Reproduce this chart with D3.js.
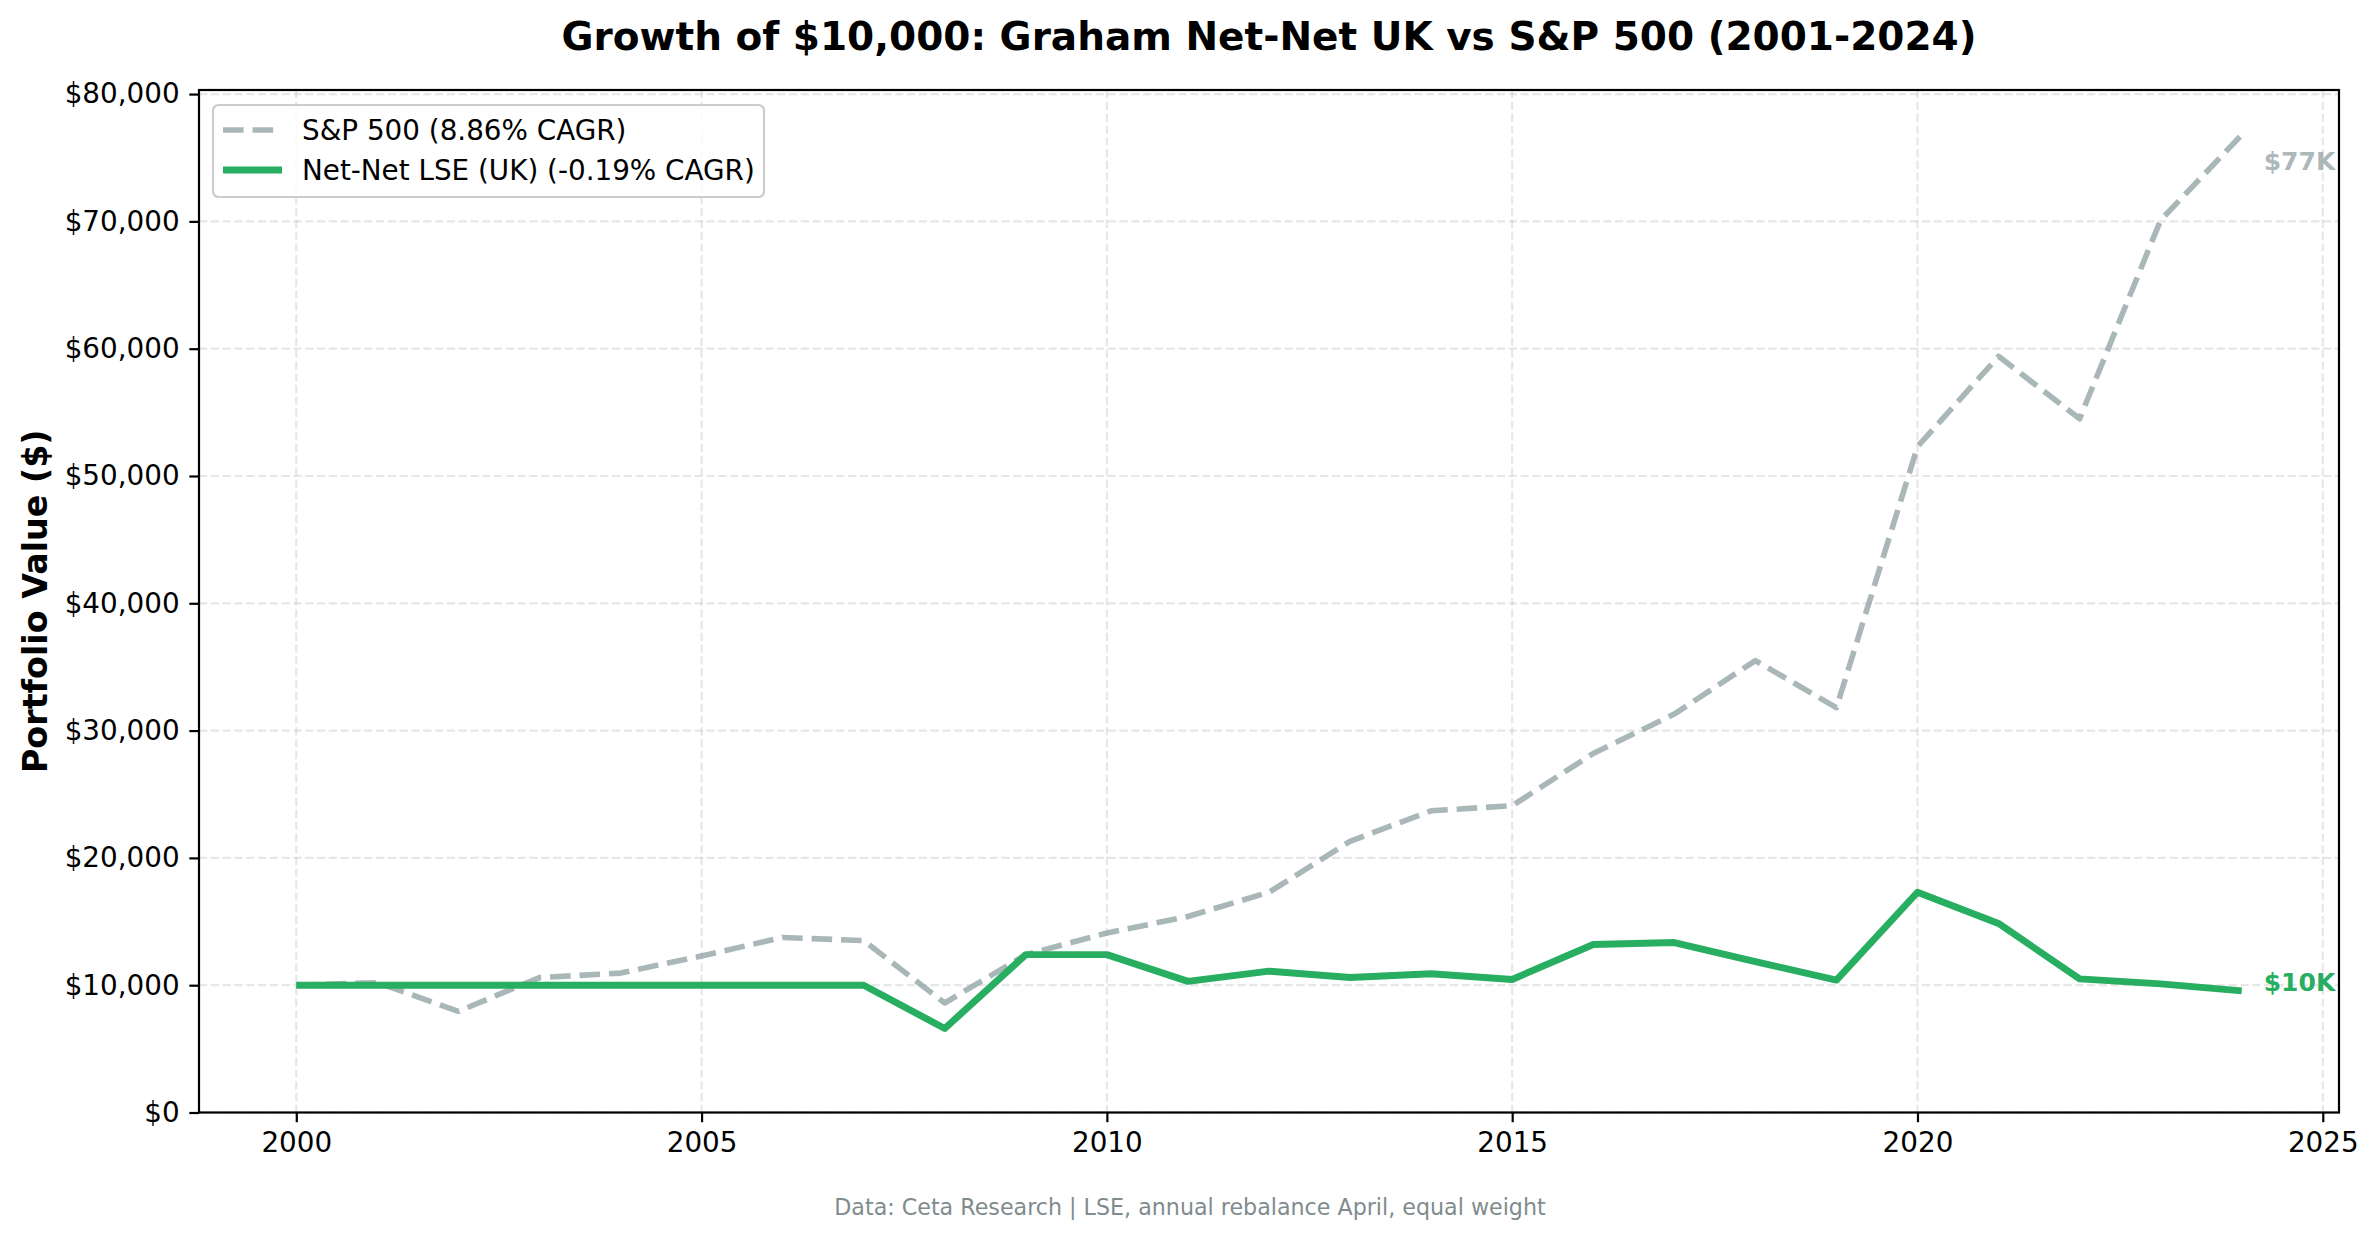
<!DOCTYPE html>
<html>
<head>
<meta charset="utf-8">
<script src="https://cdn.jsdelivr.net/npm/d3@7"></script>
<style>
  body { margin: 0; background: white; }
  text { font-family: 'DejaVu Sans', sans-serif; }
</style>
</head>
<body>
<div id="chart"></div>
<script>
const years = [2000, 2001, 2002, 2003, 2004, 2005, 2006, 2007, 2008, 2009, 2010, 2011, 2012,
  2013, 2014, 2015, 2016, 2017, 2018, 2019, 2020, 2021, 2022, 2023, 2024];
const sp500 = [10000, 10200, 7950, 10600, 10950, 12300, 13750, 13500, 8600, 12400, 14100, 15400, 17300,
  21300, 23700, 24100, 28200, 31300, 35500, 31800, 52300, 59400, 54500, 70100, 76800];
const netNet = [10000, 10000, 10000, 10000, 10000, 10000, 10000, 10000, 6600, 12400, 12400, 10300, 11100,
  10600, 10900, 10450, 13200, 13350, 11850, 10400, 17300, 14850, 10500, 10100, 9550];
const seriesNames = ['S&P 500 (8.86% CAGR)', 'Net-Net LSE (UK) (-0.19% CAGR)'];
const endLabels = ['$77K', '$10K'];
const yTicks = [0, 10000, 20000, 30000, 40000, 50000, 60000, 70000, 80000];
const xTicks = [2000, 2005, 2010, 2015, 2020, 2025];

const width = 2377;
const height = 1239;
const plotL = 199, plotR = 2339, plotT = 90, plotB = 1112.5;

const svg = d3.select('#chart')
  .append('svg')
  .attr('width', width)
  .attr('height', height);

const x = d3.scaleLinear().domain([1998.8, 2025.2]).range([plotL, plotR]);
const y = d3.scaleLinear().domain([0, 80320]).range([plotB, plotT]);

const series = [
  { name: seriesNames[0], values: sp500, color: '#95a5a6', opacity: 0.8, width: 5.6, dash: '20.6,8.9', label: endLabels[0], dy: 27 },
  { name: seriesNames[1], values: netNet, color: '#27ae60', opacity: 1, width: 6.9, dash: null, label: endLabels[1], dy: -8 }
];

// grid
svg.append('g').selectAll('line')
  .data(yTicks)
  .enter()
  .append('line')
  .attr('x1', plotL).attr('x2', plotR)
  .attr('y1', d => y(d)).attr('y2', d => y(d))
  .attr('stroke', '#b0b0b0').attr('stroke-opacity', 0.3)
  .attr('stroke-width', 2.2).attr('stroke-dasharray', '8.2,3.6');

svg.append('g').selectAll('line')
  .data(xTicks)
  .enter()
  .append('line')
  .attr('x1', d => x(d)).attr('x2', d => x(d))
  .attr('y1', plotT).attr('y2', plotB)
  .attr('stroke', '#b0b0b0').attr('stroke-opacity', 0.3)
  .attr('stroke-width', 2.2).attr('stroke-dasharray', '8.2,3.6');

// lines
const line = d3.line()
  .x((d, i) => x(years[i]))
  .y(d => y(d));

series.forEach(s => {
  svg.append('path')
    .datum(s.values)
    .attr('d', line)
    .attr('fill', 'none')
    .attr('stroke', s.color)
    .attr('stroke-opacity', s.opacity)
    .attr('stroke-width', s.width)
    .attr('stroke-dasharray', s.dash)
    .attr('stroke-linejoin', 'round');

  const last = s.values.length - 1;
  svg.append('text')
    .attr('x', x(years[last]) + 22)
    .attr('y', y(s.values[last]) + s.dy)
    .attr('dominant-baseline', 'central')
    .attr('font-size', 25)
    .attr('font-weight', 'bold')
    .attr('fill', s.color)
    .attr('fill-opacity', s.opacity)
    .text(s.label);
});

// axes
const xAxis = svg.append('g')
  .attr('transform', `translate(0,${plotB})`)
  .call(d3.axisBottom(x).tickValues(xTicks).tickFormat(d3.format('d')).tickSize(9.7).tickPadding(9.7));
const yAxis = svg.append('g')
  .attr('transform', `translate(${plotL},0)`)
  .call(d3.axisLeft(y).tickValues(yTicks).tickFormat(d => '$' + d3.format(',')(d)).tickSize(9.7).tickPadding(9.7));

[xAxis, yAxis].forEach(g => {
  g.select('.domain').remove();
  g.selectAll('line').attr('stroke', '#000').attr('stroke-width', 2.2);
  g.selectAll('text').attr('font-size', 27.8).attr('fill', '#000').attr('font-family', 'DejaVu Sans');
});

svg.append('rect')
  .attr('x', plotL).attr('y', plotT)
  .attr('width', plotR - plotL).attr('height', plotB - plotT)
  .attr('fill', 'none').attr('stroke', '#000').attr('stroke-width', 2.2);

// legend
const legend = svg.append('g').attr('transform', 'translate(213,105)');
legend.append('rect')
  .attr('width', 551).attr('height', 92).attr('rx', 5.5)
  .attr('fill', 'white').attr('fill-opacity', 0.8)
  .attr('stroke', '#cccccc').attr('stroke-width', 2.2);

series.forEach((s, i) => {
  const ly = 25 + i * 40;
  legend.append('line')
    .attr('x1', 10).attr('x2', 69)
    .attr('y1', ly).attr('y2', ly)
    .attr('stroke', s.color).attr('stroke-opacity', s.opacity)
    .attr('stroke-width', s.width).attr('stroke-dasharray', s.dash);
  legend.append('text')
    .attr('x', 89).attr('y', ly)
    .attr('dominant-baseline', 'central')
    .attr('font-size', 27.8)
    .text(s.name);
});

// titles
svg.append('text')
  .attr('x', (plotL + plotR) / 2).attr('y', 50)
  .attr('text-anchor', 'middle')
  .attr('font-size', 39).attr('font-weight', 'bold')
  .text('Growth of $10,000: Graham Net-Net UK vs S&P 500 (2001-2024)');

svg.append('text')
  .attr('transform', `translate(35,${(plotT + plotB) / 2}) rotate(-90)`)
  .attr('text-anchor', 'middle')
  .attr('dominant-baseline', 'central')
  .attr('font-size', 33.3).attr('font-weight', 'bold')
  .text('Portfolio Value ($)');

svg.append('text')
  .attr('x', 1190).attr('y', 1215)
  .attr('text-anchor', 'middle')
  .attr('font-size', 22.2).attr('fill', '#7f8c8d')
  .text('Data: Ceta Research | LSE, annual rebalance April, equal weight');
</script>
</body>
</html>
